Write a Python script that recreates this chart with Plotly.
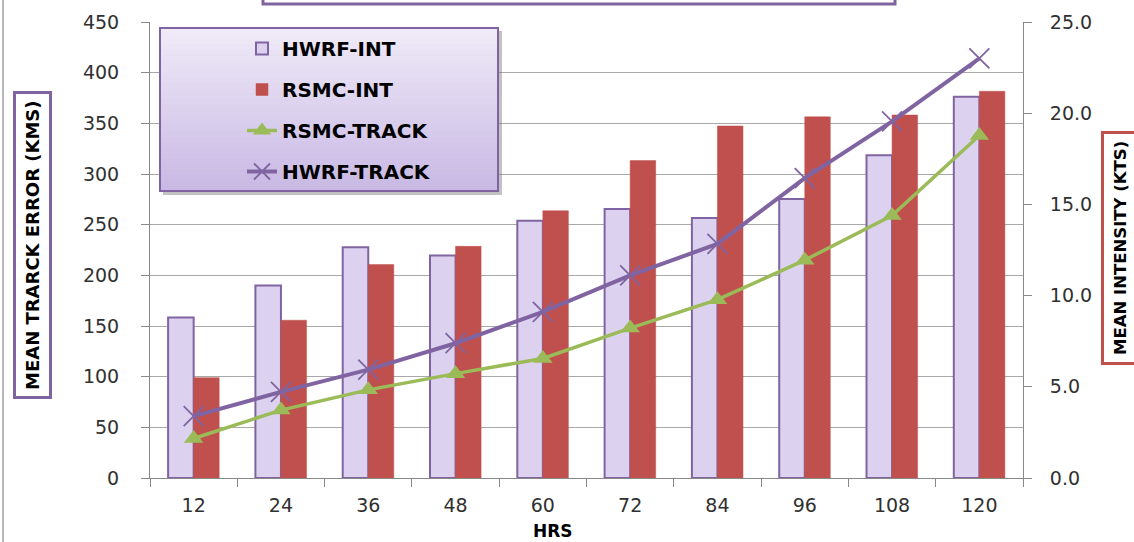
import plotly.graph_objects as go

hrs = ["12", "24", "36", "48", "60", "72", "84", "96", "108", "120"]
hwrf_int = [8.8, 10.55, 12.65, 12.2, 14.1, 14.75, 14.25, 15.3, 17.7, 20.9]
rsmc_int = [5.5, 8.65, 11.7, 12.7, 14.65, 17.4, 19.3, 19.8, 19.9, 21.2]
rsmc_track = [39, 67, 87, 103, 118, 148, 176, 215, 259, 338]
hwrf_track = [61, 85, 107, 133, 164, 200, 231, 296, 352, 414]

W, H = 1134, 542
L, R, T, B = 150, 111, 22, 64
PW, PH = W - L - R, H - T - B


def px(x):
    return (x - L) / PW


def py(y):
    return (H - B - y) / PH


FONT = "DejaVu Sans"
PURPLE = "#8064A2"
RED = "#C0504D"
GREEN = "#9BBB59"

fig = go.Figure()
fig.add_trace(go.Bar(x=hrs, y=hwrf_int, name="HWRF-INT", yaxis="y",
                     marker=dict(color="#DCD2EF", line=dict(color=PURPLE, width=2)),
                     legendgroup="a", legendrank=1))
fig.add_trace(go.Bar(x=hrs, y=rsmc_int, name="RSMC-INT", yaxis="y",
                     marker=dict(color=RED, line=dict(color=RED, width=0.5)),
                     legendgroup="b", legendrank=2))
fig.add_trace(go.Scatter(x=hrs, y=rsmc_track, name="RSMC-TRACK", yaxis="y2",
                         mode="lines+markers",
                         line=dict(color=GREEN, width=3.5),
                         marker=dict(symbol="triangle-up", size=17, color=GREEN),
                         legendgroup="c", legendrank=3))
fig.add_trace(go.Scatter(x=hrs, y=hwrf_track, name="HWRF-TRACK", yaxis="y2",
                         mode="lines+markers",
                         line=dict(color=PURPLE, width=4),
                         marker=dict(symbol="x-thin", size=20,
                                     line=dict(color=PURPLE, width=1.8)),
                         legendgroup="d", legendrank=4))

shapes = []
# legend shadow
shapes.append(dict(type="rect", xref="paper", yref="paper", layer="above",
                   x0=px(163), x1=px(502), y0=py(195), y1=py(31),
                   fillcolor="rgba(120,120,120,0.45)", line=dict(width=0)))
# legend gradient background
n = 30
top_c = (240, 235, 248)
bot_c = (200, 184, 228)
y_top, y_bot = 28, 191
for i in range(n):
    f = (i + 0.5) / n
    c = tuple(int(round(top_c[k] + (bot_c[k] - top_c[k]) * f)) for k in range(3))
    ya = y_top + (y_bot - y_top) * i / n
    yb = y_top + (y_bot - y_top) * (i + 1) / n + 0.6
    shapes.append(dict(type="rect", xref="paper", yref="paper", layer="above",
                       x0=px(160), x1=px(498), y0=py(yb), y1=py(ya),
                       fillcolor="rgb(%d,%d,%d)" % c, line=dict(width=0)))
shapes.append(dict(type="rect", xref="paper", yref="paper", layer="above",
                   x0=px(160), x1=px(498), y0=py(y_bot), y1=py(y_top),
                   line=dict(color=PURPLE, width=2)))
# top (cut-off) title box
shapes.append(dict(type="rect", xref="paper", yref="paper", layer="above",
                   x0=px(263), x1=px(895), y0=py(4), y1=py(-20),
                   fillcolor="white", line=dict(color=PURPLE, width=3)))
# left frame line
shapes.append(dict(type="line", xref="paper", yref="paper",
                   x0=px(3), x1=px(3), y0=py(545), y1=py(-5),
                   line=dict(color="#A0A0A0", width=1.5)))

annotations = [
    dict(text="<b>MEAN TRARCK ERROR (KMS)</b>", textangle=-90,
         xref="paper", yref="paper", x=px(32), y=py(245),
         xanchor="center", yanchor="middle", showarrow=False,
         font=dict(family=FONT, size=18, color="black"),
         bgcolor="white", bordercolor=PURPLE, borderwidth=3, borderpad=6),
    dict(text="<b>MEAN INTENSITY (KTS)</b>", textangle=-90,
         xref="paper", yref="paper", x=px(1120), y=py(248),
         xanchor="center", yanchor="middle", showarrow=False,
         font=dict(family=FONT, size=16.5, color="black"),
         bgcolor="white", bordercolor=RED, borderwidth=3, borderpad=7),
    dict(text="<b>HRS</b>", xref="paper", yref="paper", x=px(553), y=py(531),
         xanchor="center", yanchor="middle", showarrow=False,
         font=dict(family=FONT, size=17, color="black")),
]

tickfont = dict(family=FONT, size=19, color="#303030")

fig.update_layout(
    width=W, height=H, autosize=False,
    margin=dict(l=L, r=R, t=T, b=B, pad=0),
    paper_bgcolor="white", plot_bgcolor="white",
    barmode="group", bargap=0.415, bargroupgap=0,
    showlegend=True,
    legend=dict(x=px(242), y=py(29), xanchor="left", yanchor="top",
                bgcolor="rgba(0,0,0,0)", borderwidth=0,
                font=dict(family=FONT, size=20, color="black", weight="bold"),
                tracegroupgap=12, traceorder="grouped"),
    xaxis=dict(type="category", tickson="boundaries", ticks="outside",
               ticklen=8, tickcolor="#888888", showline=True, linecolor="#888888",
               showgrid=False, tickfont=tickfont, range=[-0.5, 9.5],
               ticklabelstandoff=10),
    yaxis=dict(side="right", range=[0, 25], tickvals=[0, 5, 10, 15, 20, 25],
               tickformat=".1f", ticks="outside", ticklen=8, tickcolor="#888888",
               showline=True, linecolor="#888888", showgrid=False, zeroline=False,
               tickfont=tickfont, ticklabelstandoff=14),
    yaxis2=dict(side="left", overlaying="y", range=[0, 450], dtick=50,
                ticks="outside", ticklen=8, tickcolor="#888888",
                showline=True, linecolor="#888888", showgrid=True,
                gridcolor="#A8A8A8", gridwidth=1, zeroline=False,
                tickfont=tickfont, ticklabelstandoff=18),
    shapes=shapes,
    annotations=annotations,
)

fig.write_html("out.html", config={"displayModeBar": False},
               post_script="document.body.style.margin='0';document.body.style.overflow='hidden';")
